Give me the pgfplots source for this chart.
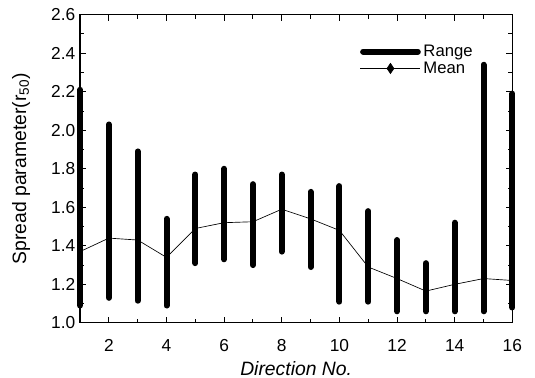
\documentclass[border=0pt]{standalone}
\usepackage{pgfplots}
\pgfplotsset{compat=1.18}
\usepackage{fontspec}
\setmainfont{Liberation Sans}
\begin{document}
\begin{tikzpicture}
\begin{axis}[
  name=ax,
  width=324pt, height=231pt, scale only axis,
  clip=false,
  xmin=1, xmax=16, ymin=1.0, ymax=2.6,
  xtick={2,4,...,16}, minor xtick={1,3,...,15},
  ytick={1.0,1.2,...,2.6}, minor ytick={1.1,1.3,...,2.5},
  yticklabel style={/pgf/number format/.cd, fixed, fixed zerofill, precision=1},
  /pgf/number format/assume math mode=true,
  tick align=inside, major tick length=4.5pt, minor tick length=3pt,
  tick style={black, line width=0.7pt},
  axis line style={line width=0.9pt},
  ticklabel style={font=\fontsize{13}{15}\selectfont},
  xticklabel style={yshift=-9pt},
  xlabel={\itshape Direction No.},
  ylabel={Spread parameter(r\textsubscript{50})},
  label style={font=\fontsize{14.5}{16}\selectfont},
  xlabel style={yshift=0pt},
  ylabel style={yshift=9pt},
  unbounded coords=jump,
  legend style={draw=none, fill=none, at={(0.638,0.92)}, anchor=north west, font=\fontsize{12.5}{14}\selectfont, row sep=-1.5pt, /tikz/every even column/.append style={column sep=2pt}},
  legend cell align=left,
]
\addplot[black, line width=4.5pt, line cap=round,
  legend image code/.code={\draw[black, line width=4.5pt, line cap=round] (2pt,0pt) -- (43pt,0pt);}]
coordinates {
(1,1.09) (1,2.21) (1,nan)
(2,1.13) (2,2.03) (2,nan)
(3,1.115) (3,1.89) (3,nan)
(4,1.09) (4,1.54) (4,nan)
(5,1.31) (5,1.77) (5,nan)
(6,1.33) (6,1.80) (6,nan)
(7,1.30) (7,1.72) (7,nan)
(8,1.37) (8,1.77) (8,nan)
(9,1.29) (9,1.68) (9,nan)
(10,1.11) (10,1.71) (10,nan)
(11,1.11) (11,1.58) (11,nan)
(12,1.06) (12,1.43) (12,nan)
(13,1.06) (13,1.31) (13,nan)
(14,1.06) (14,1.52) (14,nan)
(15,1.06) (15,2.34) (15,nan)
(16,1.08) (16,2.19)
};
\addlegendentry{Range}
\addplot[black, line width=0.5pt, forget plot] coordinates {
(1,1.37) (2,1.44) (3,1.43) (4,1.34) (5,1.49) (6,1.52) (7,1.525) (8,1.59)
(9,1.54) (10,1.48) (11,1.29) (12,1.23) (13,1.165) (14,1.20) (15,1.23) (16,1.22)
};
\addlegendimage{black, line width=0.5pt,
  legend image code/.code={\draw[black, line width=0.5pt, mark=diamond*, mark size=3.8pt, mark options={solid, fill=black, xscale=0.9}, mark repeat=2, mark phase=2] plot coordinates {(0pt,0pt) (22.5pt,0pt) (45pt,0pt)};}}
\addlegendentry{Mean}
\end{axis}
\pgfresetboundingbox
\path[use as bounding box] ([xshift=-60pt,yshift=-41pt]ax.south west) rectangle ([xshift=17pt,yshift=11pt]ax.north east);
\end{tikzpicture}
\end{document}
